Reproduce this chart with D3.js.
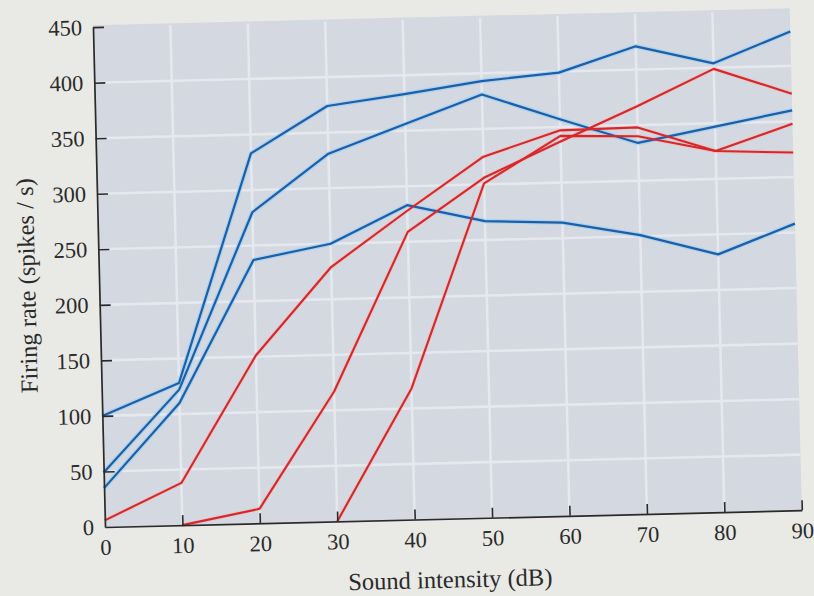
<!DOCTYPE html>
<html>
<head>
<meta charset="utf-8">
<script src="https://cdn.jsdelivr.net/npm/d3@7"></script>
<style>
  html, body { margin: 0; padding: 0; background: #e9e9e5; }
  svg { display: block; }
</style>
</head>
<body>
<svg id="chart" width="814" height="596"></svg>
<script>
// Sound intensity (dB) at which each unit was sampled
const intensityDb = [0, 10, 20, 30, 40, 50, 60, 70, 80, 90];
const rateTicks = [0, 50, 100, 150, 200, 250, 300, 350, 400, 450];

// Firing rate (spikes/s) of three units drawn in blue
const blueUnit1 = [100, 128, 333, 374, 383, 393, 399, 421, 404, 431];
const blueUnit2 = [49, 122, 280, 331, 356, 381, 357, 334, 347, 360];
const blueUnit3 = [35, 110, 237, 250, 283, 267, 264, 251, 232, 258];

// Firing rate (spikes/s) of three units drawn in red (null = below threshold, not plotted)
const redUnit1 = [6, 38, 151, 229, 278, 325, 347, 348, 325, 348];
const redUnit2 = [null, 0, 13, 117, 259, 306, 337, 367, 399, 375];
const redUnit3 = [null, null, null, 0, 118, 301, 342, 340, 325, 322];

const blueUnits = [blueUnit1, blueUnit2, blueUnit3];
const redUnits = [redUnit1, redUnit2, redUnit3];

const W = 814, H = 596;
const ox = 105, oy = 527, pw = 697, ph = 500;
const serif = "'Liberation Serif', 'Times New Roman', serif";
const ink = "#2a2a2a";

const svg = d3.select("#chart");
svg.append("rect").attr("width", W).attr("height", H).attr("fill", "#e9e9e5");

// whole figure sits at a slight tilt
const g = svg.append("g").attr("transform", `rotate(-1.38 ${ox} ${oy})`);

const x = d3.scaleLinear().domain([0, 90]).range([ox, ox + pw]);
const y = d3.scaleLinear().domain([0, 450]).range([oy, oy - ph]);

// plot panel
g.append("rect")
  .attr("x", x(0)).attr("y", y(450) - 2)
  .attr("width", x(90) - x(0)).attr("height", y(0) - y(450) + 2)
  .attr("fill", "#d3d8e1");

// white grid
const grid = g.append("g").attr("stroke", "#e5e8ed").attr("stroke-width", 2.6);
grid.selectAll("line.v").data(intensityDb.slice(1, -1)).join("line")
  .attr("class", "v")
  .attr("x1", d => x(d)).attr("x2", d => x(d))
  .attr("y1", y(0)).attr("y2", y(450));
grid.selectAll("line.h").data(rateTicks.slice(1, -1)).join("line")
  .attr("class", "h")
  .attr("x1", x(0)).attr("x2", x(90))
  .attr("y1", d => y(d)).attr("y2", d => y(d));

// curves
const line = d3.line()
  .defined(d => d[1] != null)
  .x(d => x(d[0]))
  .y(d => y(d[1]));
const toPts = vals => intensityDb.map((db, i) => [db, vals[i]]);

const curves = g.append("g").attr("fill", "none").attr("stroke-linejoin", "round");
// soft halo under each curve
curves.selectAll("path.bhalo").data(blueUnits).join("path")
  .attr("class", "bhalo")
  .attr("d", d => line(toPts(d)))
  .attr("stroke", "#9fd0f0").attr("stroke-width", 4.6).attr("opacity", 0.75);
curves.selectAll("path.rhalo").data(redUnits).join("path")
  .attr("class", "rhalo")
  .attr("d", d => line(toPts(d)))
  .attr("stroke", "#efb8a8").attr("stroke-width", 4).attr("opacity", 0.45);
curves.selectAll("path.blue").data(blueUnits).join("path")
  .attr("class", "blue")
  .attr("d", d => line(toPts(d)))
  .attr("stroke", "#1d5ea8").attr("stroke-width", 2.2);
curves.selectAll("path.red").data(redUnits).join("path")
  .attr("class", "red")
  .attr("d", d => line(toPts(d)))
  .attr("stroke", "#d8262c").attr("stroke-width", 2.1);

// axes with inward ticks
const xAxis = d3.axisBottom(x).tickValues(intensityDb).tickFormat(d3.format("d"))
  .tickSizeInner(-10).tickSizeOuter(0).tickPadding(12);
const yAxis = d3.axisLeft(y).tickValues(rateTicks).tickFormat(d3.format("d"))
  .tickSizeInner(-11).tickSizeOuter(0).tickPadding(11);

const gx = g.append("g").attr("transform", `translate(0,${oy})`).call(xAxis);
const gy = g.append("g").attr("transform", `translate(${ox},0)`).call(yAxis);
[gx, gy].forEach(a => {
  a.select(".domain").attr("stroke", ink).attr("stroke-width", 1.7);
  a.selectAll(".tick line").attr("stroke", ink).attr("stroke-width", 1.6);
  a.selectAll(".tick text")
    .attr("fill", ink)
    .style("font-family", serif)
    .style("font-size", "22.5px");
});
gy.selectAll(".tick").filter(d => d === 0).select("line").remove();
gx.selectAll(".tick").filter(d => d === 0).select("line").remove();

// axis titles
g.append("text")
  .attr("x", 449).attr("y", 596)
  .attr("text-anchor", "middle")
  .attr("fill", ink)
  .style("font-family", serif).style("font-size", "24.5px")
  .text("Sound intensity (dB)");
g.append("text")
  .attr("transform", "translate(41,284) rotate(-90)")
  .attr("text-anchor", "middle")
  .attr("fill", ink)
  .style("font-family", serif).style("font-size", "24.5px")
  .text("Firing rate (spikes / s)");
</script>
</body>
</html>
